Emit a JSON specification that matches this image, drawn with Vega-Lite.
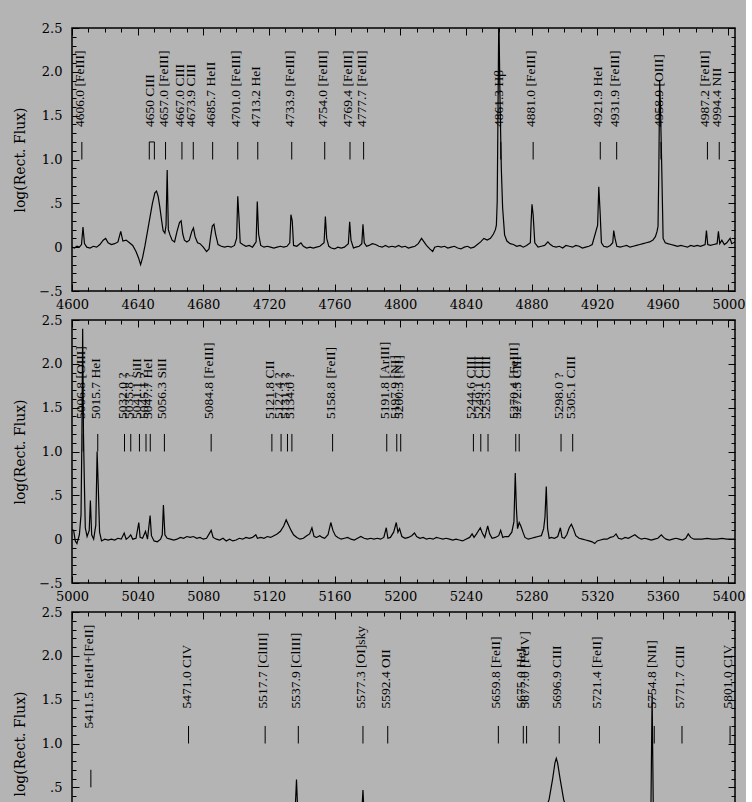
{
"$schema": "https://vega.github.io/schema/vega-lite/v6.json",
"background": "#b4b4b4",
"padding": {"left": 12, "top": 21, "right": 0, "bottom": 0},
"bounds": "flush",
"spacing": 29,
"config": {
  "view": {"stroke": "black", "strokeWidth": 1.5},
  "axis": {"domain": false, "grid": false, "labelFont": "DejaVu Serif", "labelFontSize": 13, "labelColor": "black", "tickColor": "black", "tickWidth": 1, "titleFont": "DejaVu Serif", "titleFontSize": 14, "titleFontWeight": "normal", "titleColor": "black", "labelOverlap": false, "labelFlush": false}
},
"datasets": {
"spec1": [
{"lam":4600,"flux":0.0},{"lam":4601.5,"flux":-0.01},{"lam":4603,"flux":0.01},{"lam":4604.5,"flux":0.0},{"lam":4605.8,"flux":0.03},{"lam":4606.7,"flux":0.23},{"lam":4607.6,"flux":0.04},{"lam":4609,"flux":0.0},{"lam":4611,"flux":-0.01},{"lam":4613,"flux":0.01},{"lam":4615,"flux":0.0},{"lam":4617,"flux":0.03},{"lam":4619,"flux":0.08},{"lam":4620.5,"flux":0.1},{"lam":4622,"flux":0.05},{"lam":4624,"flux":0.03},{"lam":4626,"flux":0.04},{"lam":4628,"flux":0.06},{"lam":4629.7,"flux":0.18},{"lam":4631,"flux":0.07},{"lam":4633,"flux":0.08},{"lam":4635,"flux":0.05},{"lam":4637,"flux":0.02},{"lam":4639,"flux":-0.05},{"lam":4640.5,"flux":-0.12},{"lam":4641.8,"flux":-0.2},{"lam":4643,"flux":-0.12},{"lam":4644.5,"flux":0.02},{"lam":4646,"flux":0.18},{"lam":4647.5,"flux":0.34},{"lam":4649,"flux":0.5},{"lam":4650.5,"flux":0.62},{"lam":4651.5,"flux":0.64},{"lam":4652.5,"flux":0.58},{"lam":4653.5,"flux":0.46},{"lam":4654.5,"flux":0.32},{"lam":4655.5,"flux":0.19},{"lam":4656.6,"flux":0.16},{"lam":4657.3,"flux":0.25},{"lam":4658.0,"flux":0.88},{"lam":4658.7,"flux":0.2},{"lam":4659.7,"flux":0.14},{"lam":4661,"flux":0.08},{"lam":4662.5,"flux":0.06},{"lam":4664,"flux":0.18},{"lam":4665.5,"flux":0.28},{"lam":4666.5,"flux":0.3},{"lam":4667.5,"flux":0.15},{"lam":4668.5,"flux":0.08},{"lam":4670,"flux":0.06},{"lam":4671.5,"flux":0.08},{"lam":4673,"flux":0.18},{"lam":4674,"flux":0.22},{"lam":4675,"flux":0.12},{"lam":4676.5,"flux":0.05},{"lam":4678,"flux":0.04},{"lam":4680,"flux":0.0},{"lam":4682,"flux":-0.05},{"lam":4683.5,"flux":-0.02},{"lam":4684.5,"flux":0.12},{"lam":4685.5,"flux":0.24},{"lam":4686.5,"flux":0.26},{"lam":4687.5,"flux":0.15},{"lam":4689,"flux":0.03},{"lam":4691,"flux":0.01},{"lam":4693,"flux":0.0},{"lam":4695,"flux":0.01},{"lam":4697,"flux":0.0},{"lam":4699,"flux":0.02},{"lam":4700.3,"flux":0.1},{"lam":4701.0,"flux":0.58},{"lam":4701.7,"flux":0.35},{"lam":4702.5,"flux":0.05},{"lam":4704,"flux":0.03},{"lam":4706,"flux":0.01},{"lam":4708,"flux":0.02},{"lam":4710,"flux":0.0},{"lam":4712.2,"flux":0.06},{"lam":4712.9,"flux":0.52},{"lam":4713.7,"flux":0.15},{"lam":4715,"flux":0.02},{"lam":4717,"flux":0.0},{"lam":4719,"flux":0.01},{"lam":4721,"flux":0.0},{"lam":4723,"flux":-0.01},{"lam":4725,"flux":0.0},{"lam":4727,"flux":0.01},{"lam":4729,"flux":0.0},{"lam":4731,"flux":0.01},{"lam":4732.7,"flux":0.05},{"lam":4733.4,"flux":0.37},{"lam":4734.2,"flux":0.3},{"lam":4735,"flux":0.02},{"lam":4737,"flux":0.01},{"lam":4739.5,"flux":0.05},{"lam":4741,"flux":0.01},{"lam":4743,"flux":-0.01},{"lam":4745,"flux":0.0},{"lam":4747,"flux":-0.01},{"lam":4749,"flux":0.0},{"lam":4751,"flux":0.01},{"lam":4753.6,"flux":0.05},{"lam":4754.4,"flux":0.35},{"lam":4755.2,"flux":0.1},{"lam":4756.5,"flux":0.01},{"lam":4758,"flux":-0.01},{"lam":4760,"flux":-0.02},{"lam":4762,"flux":0.0},{"lam":4764,"flux":-0.01},{"lam":4766,"flux":0.0},{"lam":4768.4,"flux":0.04},{"lam":4769.2,"flux":0.29},{"lam":4770,"flux":0.08},{"lam":4771.5,"flux":-0.01},{"lam":4773,"flux":0.0},{"lam":4775,"flux":0.01},{"lam":4776.6,"flux":0.04},{"lam":4777.3,"flux":0.26},{"lam":4778.1,"flux":0.05},{"lam":4779.5,"flux":0.01},{"lam":4781,"flux":0.02},{"lam":4783,"flux":0.04},{"lam":4785,"flux":0.03},{"lam":4787,"flux":0.01},{"lam":4789,"flux":0.0},{"lam":4791,"flux":0.02},{"lam":4793,"flux":0.0},{"lam":4795,"flux":0.01},{"lam":4797,"flux":0.0},{"lam":4799,"flux":0.02},{"lam":4801,"flux":0.0},{"lam":4803,"flux":0.01},{"lam":4805,"flux":-0.01},{"lam":4807,"flux":0.0},{"lam":4809,"flux":0.01},{"lam":4811,"flux":0.04},{"lam":4813,"flux":0.1},{"lam":4814.5,"flux":0.06},{"lam":4816,"flux":0.02},{"lam":4818,"flux":-0.02},{"lam":4819.8,"flux":-0.05},{"lam":4821,"flux":0.0},{"lam":4823,"flux":0.01},{"lam":4825,"flux":0.0},{"lam":4827,"flux":0.01},{"lam":4829,"flux":-0.01},{"lam":4831,"flux":0.0},{"lam":4833,"flux":0.01},{"lam":4835,"flux":-0.01},{"lam":4837,"flux":-0.02},{"lam":4839,"flux":0.0},{"lam":4841,"flux":0.01},{"lam":4843,"flux":-0.01},{"lam":4845,"flux":0.0},{"lam":4847,"flux":0.03},{"lam":4849,"flux":0.06},{"lam":4851,"flux":0.1},{"lam":4853,"flux":0.08},{"lam":4855,"flux":0.1},{"lam":4856.8,"flux":0.15},{"lam":4858.0,"flux":0.2},{"lam":4858.6,"flux":0.25},{"lam":4859.1,"flux":0.52},{"lam":4859.6,"flux":1.6},{"lam":4860.1,"flux":2.7},{"lam":4860.8,"flux":1.7},{"lam":4861.6,"flux":0.9},{"lam":4862.4,"flux":0.45},{"lam":4863.6,"flux":0.14},{"lam":4865,"flux":0.07},{"lam":4867,"flux":0.04},{"lam":4869,"flux":0.03},{"lam":4871,"flux":0.01},{"lam":4873,"flux":0.02},{"lam":4875,"flux":0.0},{"lam":4877,"flux":0.02},{"lam":4879.3,"flux":0.05},{"lam":4879.8,"flux":0.3},{"lam":4880.3,"flux":0.49},{"lam":4881,"flux":0.37},{"lam":4882,"flux":0.05},{"lam":4884,"flux":0.0},{"lam":4886,"flux":0.01},{"lam":4888,"flux":0.02},{"lam":4890,"flux":0.06},{"lam":4891.5,"flux":0.03},{"lam":4893,"flux":0.01},{"lam":4895,"flux":0.0},{"lam":4897,"flux":0.01},{"lam":4899,"flux":-0.01},{"lam":4901,"flux":0.02},{"lam":4903,"flux":0.01},{"lam":4905,"flux":0.0},{"lam":4907,"flux":0.02},{"lam":4909,"flux":0.01},{"lam":4911,"flux":-0.01},{"lam":4913,"flux":0.0},{"lam":4915,"flux":0.01},{"lam":4917,"flux":0.03},{"lam":4920.3,"flux":0.25},{"lam":4921.0,"flux":0.69},{"lam":4921.8,"flux":0.4},{"lam":4922.6,"flux":0.05},{"lam":4924,"flux":0.01},{"lam":4926,"flux":0.0},{"lam":4928,"flux":0.02},{"lam":4929.5,"flux":0.05},{"lam":4930.1,"flux":0.19},{"lam":4930.9,"flux":0.1},{"lam":4932,"flux":0.01},{"lam":4934,"flux":0.0},{"lam":4936,"flux":0.01},{"lam":4938,"flux":0.02},{"lam":4940,"flux":0.0},{"lam":4942,"flux":0.01},{"lam":4944,"flux":0.02},{"lam":4946,"flux":0.03},{"lam":4948,"flux":0.04},{"lam":4950,"flux":0.05},{"lam":4952,"flux":0.06},{"lam":4954,"flux":0.08},{"lam":4955.5,"flux":0.12},{"lam":4956.5,"flux":0.18},{"lam":4957.1,"flux":0.24},{"lam":4957.6,"flux":0.9},{"lam":4958.1,"flux":1.9},{"lam":4958.7,"flux":1.5},{"lam":4959.3,"flux":0.96},{"lam":4960.2,"flux":0.1},{"lam":4961.5,"flux":0.05},{"lam":4963,"flux":0.04},{"lam":4965,"flux":0.03},{"lam":4967,"flux":0.02},{"lam":4969,"flux":0.01},{"lam":4971,"flux":0.02},{"lam":4973,"flux":0.01},{"lam":4975,"flux":0.0},{"lam":4977,"flux":0.02},{"lam":4979,"flux":0.01},{"lam":4981,"flux":0.02},{"lam":4983,"flux":0.01},{"lam":4985.8,"flux":0.03},{"lam":4986.6,"flux":0.19},{"lam":4987.4,"flux":0.03},{"lam":4989,"flux":0.02},{"lam":4991,"flux":0.03},{"lam":4993.1,"flux":0.04},{"lam":4993.9,"flux":0.18},{"lam":4994.7,"flux":0.04},{"lam":4996,"flux":0.08},{"lam":4997.5,"flux":0.03},{"lam":4999,"flux":0.05},{"lam":5001,"flux":0.1},{"lam":5002,"flux":0.04},{"lam":5004,"flux":0.06}
],
"spec2": [
{"lam":5000,"flux":0.11},{"lam":5001,"flux":0.1},{"lam":5002,"flux":-0.02},{"lam":5003,"flux":-0.05},{"lam":5004.5,"flux":0.05},{"lam":5005.5,"flux":0.28},{"lam":5006.0,"flux":1.1},{"lam":5006.5,"flux":2.4},{"lam":5007.0,"flux":1.2},{"lam":5007.5,"flux":0.68},{"lam":5008.1,"flux":0.13},{"lam":5009.2,"flux":0.03},{"lam":5010.5,"flux":0.1},{"lam":5011.2,"flux":0.44},{"lam":5012,"flux":0.05},{"lam":5013.2,"flux":0.0},{"lam":5014.5,"flux":0.16},{"lam":5015.3,"flux":1.0},{"lam":5016.0,"flux":0.6},{"lam":5016.8,"flux":0.08},{"lam":5018,"flux":-0.02},{"lam":5020,"flux":0.0},{"lam":5022,"flux":-0.01},{"lam":5024,"flux":0.0},{"lam":5026,"flux":-0.01},{"lam":5028,"flux":0.01},{"lam":5030,"flux":0.0},{"lam":5031.8,"flux":0.07},{"lam":5033,"flux":0.0},{"lam":5034.5,"flux":0.02},{"lam":5035.8,"flux":0.05},{"lam":5037,"flux":0.0},{"lam":5039,"flux":0.01},{"lam":5040.7,"flux":0.19},{"lam":5041.5,"flux":0.02},{"lam":5043,"flux":0.01},{"lam":5044.8,"flux":0.09},{"lam":5046,"flux":0.0},{"lam":5047.6,"flux":0.27},{"lam":5048.4,"flux":0.04},{"lam":5050,"flux":-0.02},{"lam":5052,"flux":-0.03},{"lam":5054,"flux":0.0},{"lam":5055,"flux":0.05},{"lam":5055.7,"flux":0.39},{"lam":5056.6,"flux":0.05},{"lam":5058,"flux":0.01},{"lam":5060,"flux":0.0},{"lam":5062,"flux":-0.01},{"lam":5064,"flux":0.0},{"lam":5066,"flux":0.02},{"lam":5068,"flux":0.01},{"lam":5070,"flux":0.03},{"lam":5072,"flux":0.02},{"lam":5074,"flux":0.03},{"lam":5076,"flux":0.01},{"lam":5078,"flux":0.02},{"lam":5080,"flux":0.0},{"lam":5082,"flux":0.01},{"lam":5084.8,"flux":0.1},{"lam":5086,"flux":0.02},{"lam":5088,"flux":0.0},{"lam":5090,"flux":-0.01},{"lam":5092,"flux":0.01},{"lam":5094,"flux":-0.02},{"lam":5096,"flux":0.0},{"lam":5098,"flux":-0.02},{"lam":5100,"flux":-0.01},{"lam":5102,"flux":0.01},{"lam":5104,"flux":0.0},{"lam":5106,"flux":0.02},{"lam":5108,"flux":0.01},{"lam":5110,"flux":0.02},{"lam":5112,"flux":0.05},{"lam":5113,"flux":0.01},{"lam":5115,"flux":0.02},{"lam":5117,"flux":0.01},{"lam":5119,"flux":0.03},{"lam":5121,"flux":0.02},{"lam":5123,"flux":0.04},{"lam":5125,"flux":0.06},{"lam":5127,"flux":0.09},{"lam":5129,"flux":0.15},{"lam":5130.5,"flux":0.22},{"lam":5132,"flux":0.16},{"lam":5133.5,"flux":0.1},{"lam":5135,"flux":0.05},{"lam":5137,"flux":0.02},{"lam":5139,"flux":0.0},{"lam":5141,"flux":0.01},{"lam":5143,"flux":0.04},{"lam":5144.8,"flux":0.06},{"lam":5146.2,"flux":0.13},{"lam":5147.5,"flux":0.03},{"lam":5149,"flux":0.02},{"lam":5151,"flux":0.04},{"lam":5152.5,"flux":0.02},{"lam":5154,"flux":0.01},{"lam":5156,"flux":0.05},{"lam":5157.7,"flux":0.19},{"lam":5159,"flux":0.1},{"lam":5160.5,"flux":0.04},{"lam":5162,"flux":0.02},{"lam":5164,"flux":0.0},{"lam":5166,"flux":0.01},{"lam":5168,"flux":0.02},{"lam":5170,"flux":0.0},{"lam":5172,"flux":-0.01},{"lam":5174,"flux":0.01},{"lam":5176,"flux":0.03},{"lam":5178,"flux":0.01},{"lam":5180,"flux":0.0},{"lam":5182,"flux":0.01},{"lam":5184,"flux":0.0},{"lam":5186,"flux":0.01},{"lam":5188,"flux":0.0},{"lam":5190,"flux":0.02},{"lam":5191.5,"flux":0.13},{"lam":5192.5,"flux":0.01},{"lam":5194,"flux":0.02},{"lam":5196,"flux":0.08},{"lam":5197.6,"flux":0.19},{"lam":5198.6,"flux":0.08},{"lam":5199.6,"flux":0.12},{"lam":5201,"flux":0.03},{"lam":5203,"flux":0.01},{"lam":5205,"flux":0.02},{"lam":5207,"flux":0.04},{"lam":5208.7,"flux":0.07},{"lam":5210,"flux":0.03},{"lam":5212,"flux":0.01},{"lam":5214,"flux":0.02},{"lam":5216,"flux":0.0},{"lam":5218,"flux":0.01},{"lam":5220,"flux":0.0},{"lam":5222,"flux":0.02},{"lam":5224,"flux":0.01},{"lam":5226,"flux":0.0},{"lam":5228,"flux":0.01},{"lam":5230,"flux":0.0},{"lam":5232,"flux":-0.01},{"lam":5234,"flux":0.0},{"lam":5236,"flux":-0.01},{"lam":5238,"flux":-0.02},{"lam":5240,"flux":0.0},{"lam":5242.3,"flux":0.02},{"lam":5243.8,"flux":0.06},{"lam":5245,"flux":0.02},{"lam":5246.5,"flux":0.06},{"lam":5248.8,"flux":0.13},{"lam":5250,"flux":0.07},{"lam":5251.5,"flux":0.02},{"lam":5253.3,"flux":0.15},{"lam":5254.5,"flux":0.06},{"lam":5256,"flux":0.01},{"lam":5258,"flux":0.02},{"lam":5260,"flux":0.04},{"lam":5261.2,"flux":0.1},{"lam":5262.5,"flux":0.02},{"lam":5264,"flux":0.03},{"lam":5266,"flux":0.03},{"lam":5268,"flux":0.08},{"lam":5269.3,"flux":0.2},{"lam":5270.1,"flux":0.755},{"lam":5270.8,"flux":0.35},{"lam":5271.5,"flux":0.12},{"lam":5272.5,"flux":0.19},{"lam":5273.5,"flux":0.15},{"lam":5274.8,"flux":0.08},{"lam":5276,"flux":0.02},{"lam":5278,"flux":0.0},{"lam":5280,"flux":0.01},{"lam":5282,"flux":0.02},{"lam":5284,"flux":0.03},{"lam":5286,"flux":0.04},{"lam":5287.4,"flux":0.12},{"lam":5288.2,"flux":0.25},{"lam":5289.0,"flux":0.6},{"lam":5289.8,"flux":0.12},{"lam":5290.8,"flux":0.01},{"lam":5292,"flux":0.02},{"lam":5294,"flux":0.01},{"lam":5296,"flux":0.03},{"lam":5297.6,"flux":0.13},{"lam":5298.6,"flux":0.02},{"lam":5300,"flux":0.01},{"lam":5301.5,"flux":0.05},{"lam":5303,"flux":0.13},{"lam":5304.3,"flux":0.17},{"lam":5305.5,"flux":0.12},{"lam":5307,"flux":0.04},{"lam":5309,"flux":0.01},{"lam":5311,"flux":0.0},{"lam":5313,"flux":-0.01},{"lam":5315,"flux":-0.02},{"lam":5317,"flux":-0.03},{"lam":5318.5,"flux":-0.05},{"lam":5320,"flux":-0.02},{"lam":5322,"flux":-0.01},{"lam":5324,"flux":0.0},{"lam":5326,"flux":0.0},{"lam":5328,"flux":0.02},{"lam":5330,"flux":0.03},{"lam":5331.5,"flux":0.06},{"lam":5333,"flux":0.01},{"lam":5335,"flux":0.0},{"lam":5337,"flux":0.02},{"lam":5339,"flux":0.01},{"lam":5341,"flux":0.03},{"lam":5343,"flux":0.05},{"lam":5345,"flux":0.02},{"lam":5347,"flux":0.0},{"lam":5349,"flux":0.01},{"lam":5351,"flux":0.0},{"lam":5353,"flux":-0.01},{"lam":5355,"flux":0.0},{"lam":5357,"flux":0.01},{"lam":5359.1,"flux":0.05},{"lam":5360.5,"flux":0.02},{"lam":5362,"flux":0.0},{"lam":5364,"flux":-0.01},{"lam":5366,"flux":0.0},{"lam":5368,"flux":0.01},{"lam":5370,"flux":0.0},{"lam":5372,"flux":-0.01},{"lam":5374,"flux":0.01},{"lam":5375.5,"flux":0.06},{"lam":5377,"flux":0.02},{"lam":5379,"flux":0.0},{"lam":5381,"flux":0.0},{"lam":5384,"flux":0.0},{"lam":5387,"flux":0.01},{"lam":5390,"flux":0.0},{"lam":5393,"flux":0.0},{"lam":5396,"flux":0.01},{"lam":5399,"flux":0.0},{"lam":5402,"flux":0.0},{"lam":5404,"flux":0.0}
],
"spec3": [
{"lam":5400,"flux":0.0},{"lam":5404,"flux":0.02},{"lam":5408,"flux":0.05},{"lam":5411.5,"flux":0.15},{"lam":5415,"flux":0.05},{"lam":5419,"flux":0.01},{"lam":5423,"flux":0.0},{"lam":5427,"flux":0.02},{"lam":5431,"flux":0.01},{"lam":5435,"flux":0.0},{"lam":5439,"flux":0.01},{"lam":5443,"flux":0.02},{"lam":5447,"flux":0.0},{"lam":5451,"flux":0.01},{"lam":5455,"flux":0.0},{"lam":5459,"flux":0.02},{"lam":5463,"flux":0.03},{"lam":5467,"flux":0.06},{"lam":5471,"flux":0.12},{"lam":5475,"flux":0.05},{"lam":5479,"flux":0.02},{"lam":5483,"flux":0.01},{"lam":5487,"flux":0.0},{"lam":5491,"flux":0.01},{"lam":5495,"flux":0.0},{"lam":5499,"flux":0.02},{"lam":5503,"flux":0.01},{"lam":5507,"flux":0.0},{"lam":5511,"flux":0.01},{"lam":5515,"flux":0.03},{"lam":5517.5,"flux":0.1},{"lam":5519.5,"flux":0.02},{"lam":5523,"flux":0.01},{"lam":5527,"flux":0.0},{"lam":5531,"flux":0.01},{"lam":5534,"flux":0.03},{"lam":5535.9,"flux":0.2},{"lam":5536.8,"flux":0.59},{"lam":5537.7,"flux":0.15},{"lam":5539,"flux":0.02},{"lam":5543,"flux":0.01},{"lam":5547,"flux":0.0},{"lam":5551,"flux":0.02},{"lam":5555,"flux":0.01},{"lam":5559,"flux":0.0},{"lam":5563,"flux":0.01},{"lam":5567,"flux":0.02},{"lam":5571,"flux":0.0},{"lam":5574,"flux":0.02},{"lam":5576.4,"flux":0.15},{"lam":5577.3,"flux":0.47},{"lam":5578.2,"flux":0.1},{"lam":5580,"flux":0.02},{"lam":5584,"flux":0.01},{"lam":5588,"flux":0.02},{"lam":5592,"flux":0.08},{"lam":5595,"flux":0.02},{"lam":5599,"flux":0.01},{"lam":5603,"flux":0.0},{"lam":5607,"flux":0.02},{"lam":5611,"flux":0.01},{"lam":5615,"flux":0.0},{"lam":5619,"flux":0.01},{"lam":5623,"flux":0.02},{"lam":5627,"flux":0.0},{"lam":5631,"flux":0.01},{"lam":5635,"flux":0.0},{"lam":5639,"flux":0.02},{"lam":5643,"flux":0.01},{"lam":5647,"flux":0.0},{"lam":5651,"flux":0.01},{"lam":5655,"flux":0.02},{"lam":5659,"flux":0.06},{"lam":5663,"flux":0.02},{"lam":5667,"flux":0.01},{"lam":5671,"flux":0.03},{"lam":5675,"flux":0.05},{"lam":5678,"flux":0.06},{"lam":5681,"flux":0.08},{"lam":5684,"flux":0.1},{"lam":5687,"flux":0.18},{"lam":5689,"flux":0.28},{"lam":5690.7,"flux":0.36},{"lam":5692.9,"flux":0.6},{"lam":5694.3,"flux":0.78},{"lam":5695.1,"flux":0.83},{"lam":5695.9,"flux":0.78},{"lam":5697.4,"flux":0.6},{"lam":5699.6,"flux":0.36},{"lam":5701.5,"flux":0.24},{"lam":5704,"flux":0.14},{"lam":5707,"flux":0.07},{"lam":5710,"flux":0.04},{"lam":5714,"flux":0.02},{"lam":5718,"flux":0.01},{"lam":5721,"flux":0.04},{"lam":5724,"flux":0.01},{"lam":5728,"flux":0.0},{"lam":5732,"flux":0.01},{"lam":5736,"flux":0.02},{"lam":5740,"flux":0.0},{"lam":5744,"flux":0.01},{"lam":5748,"flux":0.02},{"lam":5751.5,"flux":0.05},{"lam":5752.8,"flux":0.3},{"lam":5753.5,"flux":1.57},{"lam":5754.2,"flux":0.25},{"lam":5756,"flux":0.04},{"lam":5760,"flux":0.01},{"lam":5764,"flux":0.0},{"lam":5768,"flux":0.01},{"lam":5772,"flux":0.03},{"lam":5776,"flux":0.01},{"lam":5780,"flux":0.0},{"lam":5784,"flux":0.01},{"lam":5788,"flux":0.02},{"lam":5792,"flux":0.0},{"lam":5796,"flux":0.01},{"lam":5800,"flux":0.03},{"lam":5804,"flux":0.01}
],
"ticks1": [{"lam":4606.0},{"lam":4647.1},{"lam":4650.2},{"lam":4657.0},{"lam":4667.0},{"lam":4673.9},{"lam":4685.7},{"lam":4701.0},{"lam":4713.2},{"lam":4733.9},{"lam":4754.0},{"lam":4769.4},{"lam":4777.7},{"lam":4861.3},{"lam":4881.0},{"lam":4921.9},{"lam":4931.9},{"lam":4958.9},{"lam":4987.2},{"lam":4994.4}],
"bracket1": [{"lam":4647.1,"lam2":4650.2}],
"labels1": [
{"lam":4606.0,"label":"4606.0 [FeIII]"},{"lam":4648.6,"label":"4650  CIII"},{"lam":4657.0,"label":"4657.0 [FeIII]"},{"lam":4667.0,"label":"4667.0 CIII"},{"lam":4673.9,"label":"4673.9 CIII"},{"lam":4685.7,"label":"4685.7 HeII"},{"lam":4701.0,"label":"4701.0 [FeIII]"},{"lam":4713.2,"label":"4713.2 HeI"},{"lam":4733.9,"label":"4733.9 [FeIII]"},{"lam":4754.0,"label":"4754.0 [FeIII]"},{"lam":4769.4,"label":"4769.4 [FeIII]"},{"lam":4777.7,"label":"4777.7 [FeIII]"},{"lam":4861.3,"label":"4861.3 Hβ"},{"lam":4881.0,"label":"4881.0 [FeIII]"},{"lam":4921.9,"label":"4921.9 HeI"},{"lam":4931.9,"label":"4931.9 [FeIII]"},{"lam":4958.9,"label":"4958.9 [OIII]"},{"lam":4987.2,"label":"4987.2 [FeIII]"},{"lam":4994.4,"label":"4994.4 NII"}
],
"ticks2": [{"lam":5006.8},{"lam":5015.7},{"lam":5032.0},{"lam":5035.8},{"lam":5041.1},{"lam":5045.1},{"lam":5047.7},{"lam":5056.3},{"lam":5084.8},{"lam":5121.8},{"lam":5127.4},{"lam":5131.3},{"lam":5134.0},{"lam":5158.8},{"lam":5191.8},{"lam":5197.9},{"lam":5200.3},{"lam":5244.6},{"lam":5249.1},{"lam":5253.5},{"lam":5270.4},{"lam":5272.5},{"lam":5298.0},{"lam":5305.1}],
"labels2": [
{"lam":5006.8,"label":"5006.8 [OIII]"},{"lam":5015.7,"label":"5015.7 HeI"},{"lam":5032.0,"label":"5032.0 ?"},{"lam":5035.8,"label":"5035.8 ?"},{"lam":5041.1,"label":"5041.1 SiII"},{"lam":5045.1,"label":"5045.1 ?"},{"lam":5047.7,"label":"5047.7 HeI"},{"lam":5056.3,"label":"5056.3 SiII"},{"lam":5084.8,"label":"5084.8 [FeIII]"},{"lam":5121.8,"label":"5121.8 CII"},{"lam":5127.4,"label":"5127.4 ?"},{"lam":5131.3,"label":"5131.3 ?"},{"lam":5134.0,"label":"5134.0 ?"},{"lam":5158.8,"label":"5158.8 [FeII]"},{"lam":5191.8,"label":"5191.8 [ArIII]"},{"lam":5197.9,"label":"5197.9 [NI]"},{"lam":5200.3,"label":"5200.3 [NI]"},{"lam":5244.6,"label":"5244.6 CIII"},{"lam":5249.1,"label":"5249.1 CIII"},{"lam":5253.5,"label":"5253.5 CIII"},{"lam":5270.4,"label":"5270.4 [FeIII]"},{"lam":5272.5,"label":"5272.5 CIII"},{"lam":5298.0,"label":"5298.0 ?"},{"lam":5305.1,"label":"5305.1 CIII"}
],
"ticks3": [{"lam":5471.0},{"lam":5517.7},{"lam":5537.9},{"lam":5577.3},{"lam":5592.4},{"lam":5659.8},{"lam":5675.0},{"lam":5677.0},{"lam":5696.9},{"lam":5721.4},{"lam":5754.8},{"lam":5771.7},{"lam":5801.0}],
"ticks3low": [{"lam":5411.5}],
"labels3": [
{"lam":5471.0,"label":"5471.0 CIV"},{"lam":5517.7,"label":"5517.7 [ClIII]"},{"lam":5537.9,"label":"5537.9 [ClIII]"},{"lam":5577.3,"label":"5577.3 [OI]sky"},{"lam":5592.4,"label":"5592.4 OII"},{"lam":5659.8,"label":"5659.8 [FeII]"},{"lam":5675.0,"label":"5675.0 HeI"},{"lam":5677.0,"label":"5677.0 [FeIV]"},{"lam":5696.9,"label":"5696.9 CIII"},{"lam":5721.4,"label":"5721.4 [FeII]"},{"lam":5754.8,"label":"5754.8 [NII]"},{"lam":5771.7,"label":"5771.7 CIII"},{"lam":5801.0,"label":"5801.0 CIV"}
],
"labels3low": [{"lam":5411.5,"label":"5411.5 HeII+[FeII]"}]
},
"vconcat": [
{
 "width": 663, "height": 263,
 "layer": [
  {"data": {"name": "spec1"}, "mark": {"type": "line", "color": "black", "strokeWidth": 1.2, "clip": true},
   "encoding": {
    "x": {"field": "lam", "type": "quantitative", "scale": {"domain": [4600, 5004], "nice": false, "zero": false},
      "axis": {"orient": "bottom", "title": null, "format": "d", "values": [4600,4610,4620,4630,4640,4650,4660,4670,4680,4690,4700,4710,4720,4730,4740,4750,4760,4770,4780,4790,4800,4810,4820,4830,4840,4850,4860,4870,4880,4890,4900,4910,4920,4930,4940,4950,4960,4970,4980,4990,5000], "labelExpr": "datum.value % 40 === 0 ? datum.label : ''", "tickSize": {"condition": {"test": "datum.value % 40 === 0", "value": -7}, "value": -4}, "labelPadding": 14}},
    "y": {"field": "flux", "type": "quantitative", "scale": {"domain": [-0.5, 2.5], "nice": false, "zero": false},
      "axis": {"orient": "left", "title": "log(Rect. Flux)", "titlePadding": 11, "values": [-0.5,-0.4,-0.3,-0.2,-0.1,0,0.1,0.2,0.3,0.4,0.5,0.6,0.7,0.8,0.9,1,1.1,1.2,1.3,1.4,1.5,1.6,1.7,1.8,1.9,2,2.1,2.2,2.3,2.4,2.5], "labelExpr": "abs(datum.value*2 - round(datum.value*2)) < 0.001 ? (abs(datum.value) < 0.001 ? '0' : (abs(datum.value) < 0.9 ? replace(format(datum.value, '.1f'), '0.', '.') : format(datum.value, '.1f'))) : ''", "tickSize": {"condition": {"test": "abs(datum.value*2 - round(datum.value*2)) < 0.001", "value": -7}, "value": -4}, "labelPadding": 17}}
   }},
  {"data": {"name": "ticks1"}, "mark": {"type": "rule", "color": "black", "strokeWidth": 1},
   "encoding": {
    "x": {"field": "lam", "type": "quantitative", "axis": {"orient": "top", "title": null, "labels": false, "values": [4600,4610,4620,4630,4640,4650,4660,4670,4680,4690,4700,4710,4720,4730,4740,4750,4760,4770,4780,4790,4800,4810,4820,4830,4840,4850,4860,4870,4880,4890,4900,4910,4920,4930,4940,4950,4960,4970,4980,4990,5000], "tickSize": {"condition": {"test": "datum.value % 40 === 0", "value": -7}, "value": -4}}},
    "y": {"datum": 1.0, "type": "quantitative", "axis": {"orient": "right", "title": null, "labels": false, "values": [-0.5,-0.4,-0.3,-0.2,-0.1,0,0.1,0.2,0.3,0.4,0.5,0.6,0.7,0.8,0.9,1,1.1,1.2,1.3,1.4,1.5,1.6,1.7,1.8,1.9,2,2.1,2.2,2.3,2.4,2.5], "tickSize": {"condition": {"test": "abs(datum.value*2 - round(datum.value*2)) < 0.001", "value": -7}, "value": -4}}},
    "y2": {"datum": 1.2}
   }},
  {"data": {"name": "bracket1"}, "mark": {"type": "rule", "color": "black", "strokeWidth": 1},
   "encoding": {"x": {"field": "lam", "type": "quantitative", "axis": null}, "x2": {"field": "lam2"}, "y": {"datum": 1.2, "type": "quantitative", "axis": null}}},
  {"data": {"name": "labels1"}, "mark": {"type": "text", "angle": 270, "align": "left", "baseline": "middle", "dy": -2, "font": "Liberation Serif", "fontSize": 13.5, "color": "black"},
   "encoding": {"x": {"field": "lam", "type": "quantitative", "axis": null}, "y": {"datum": 1.37, "type": "quantitative", "axis": null}, "text": {"field": "label"}}}
 ]
},
{
 "width": 663, "height": 263,
 "layer": [
  {"data": {"name": "spec2"}, "mark": {"type": "line", "color": "black", "strokeWidth": 1.2, "clip": true},
   "encoding": {
    "x": {"field": "lam", "type": "quantitative", "scale": {"domain": [5000, 5404], "nice": false, "zero": false},
      "axis": {"orient": "bottom", "title": null, "format": "d", "values": [5000,5010,5020,5030,5040,5050,5060,5070,5080,5090,5100,5110,5120,5130,5140,5150,5160,5170,5180,5190,5200,5210,5220,5230,5240,5250,5260,5270,5280,5290,5300,5310,5320,5330,5340,5350,5360,5370,5380,5390,5400], "labelExpr": "datum.value % 40 === 0 ? datum.label : ''", "tickSize": {"condition": {"test": "datum.value % 40 === 0", "value": -7}, "value": -4}, "labelPadding": 14}},
    "y": {"field": "flux", "type": "quantitative", "scale": {"domain": [-0.5, 2.5], "nice": false, "zero": false},
      "axis": {"orient": "left", "title": "log(Rect. Flux)", "titlePadding": 11, "values": [-0.5,-0.4,-0.3,-0.2,-0.1,0,0.1,0.2,0.3,0.4,0.5,0.6,0.7,0.8,0.9,1,1.1,1.2,1.3,1.4,1.5,1.6,1.7,1.8,1.9,2,2.1,2.2,2.3,2.4,2.5], "labelExpr": "abs(datum.value*2 - round(datum.value*2)) < 0.001 ? (abs(datum.value) < 0.001 ? '0' : (abs(datum.value) < 0.9 ? replace(format(datum.value, '.1f'), '0.', '.') : format(datum.value, '.1f'))) : ''", "tickSize": {"condition": {"test": "abs(datum.value*2 - round(datum.value*2)) < 0.001", "value": -7}, "value": -4}, "labelPadding": 17}}
   }},
  {"data": {"name": "ticks2"}, "mark": {"type": "rule", "color": "black", "strokeWidth": 1},
   "encoding": {
    "x": {"field": "lam", "type": "quantitative", "axis": {"orient": "top", "title": null, "labels": false, "values": [5000,5010,5020,5030,5040,5050,5060,5070,5080,5090,5100,5110,5120,5130,5140,5150,5160,5170,5180,5190,5200,5210,5220,5230,5240,5250,5260,5270,5280,5290,5300,5310,5320,5330,5340,5350,5360,5370,5380,5390,5400], "tickSize": {"condition": {"test": "datum.value % 40 === 0", "value": -7}, "value": -4}}},
    "y": {"datum": 1.0, "type": "quantitative", "axis": {"orient": "right", "title": null, "labels": false, "values": [-0.5,-0.4,-0.3,-0.2,-0.1,0,0.1,0.2,0.3,0.4,0.5,0.6,0.7,0.8,0.9,1,1.1,1.2,1.3,1.4,1.5,1.6,1.7,1.8,1.9,2,2.1,2.2,2.3,2.4,2.5], "tickSize": {"condition": {"test": "abs(datum.value*2 - round(datum.value*2)) < 0.001", "value": -7}, "value": -4}}},
    "y2": {"datum": 1.2}
   }},
  {"data": {"name": "labels2"}, "mark": {"type": "text", "angle": 270, "align": "left", "baseline": "middle", "dy": -2, "font": "Liberation Serif", "fontSize": 13.5, "color": "black"},
   "encoding": {"x": {"field": "lam", "type": "quantitative", "axis": null}, "y": {"datum": 1.37, "type": "quantitative", "axis": null}, "text": {"field": "label"}}}
 ]
},
{
 "width": 663, "height": 263,
 "layer": [
  {"data": {"name": "spec3"}, "mark": {"type": "line", "color": "black", "strokeWidth": 1.2, "clip": true},
   "encoding": {
    "x": {"field": "lam", "type": "quantitative", "scale": {"domain": [5400, 5804], "nice": false, "zero": false},
      "axis": {"orient": "bottom", "title": null, "format": "d", "values": [5400,5410,5420,5430,5440,5450,5460,5470,5480,5490,5500,5510,5520,5530,5540,5550,5560,5570,5580,5590,5600,5610,5620,5630,5640,5650,5660,5670,5680,5690,5700,5710,5720,5730,5740,5750,5760,5770,5780,5790,5800], "labelExpr": "datum.value % 40 === 0 ? datum.label : ''", "tickSize": {"condition": {"test": "datum.value % 40 === 0", "value": -7}, "value": -4}, "labelPadding": 14}},
    "y": {"field": "flux", "type": "quantitative", "scale": {"domain": [-0.5, 2.5], "nice": false, "zero": false},
      "axis": {"orient": "left", "title": "log(Rect. Flux)", "titlePadding": 11, "values": [-0.5,-0.4,-0.3,-0.2,-0.1,0,0.1,0.2,0.3,0.4,0.5,0.6,0.7,0.8,0.9,1,1.1,1.2,1.3,1.4,1.5,1.6,1.7,1.8,1.9,2,2.1,2.2,2.3,2.4,2.5], "labelExpr": "abs(datum.value*2 - round(datum.value*2)) < 0.001 ? (abs(datum.value) < 0.001 ? '0' : (abs(datum.value) < 0.9 ? replace(format(datum.value, '.1f'), '0.', '.') : format(datum.value, '.1f'))) : ''", "tickSize": {"condition": {"test": "abs(datum.value*2 - round(datum.value*2)) < 0.001", "value": -7}, "value": -4}, "labelPadding": 17}}
   }},
  {"data": {"name": "ticks3"}, "mark": {"type": "rule", "color": "black", "strokeWidth": 1},
   "encoding": {
    "x": {"field": "lam", "type": "quantitative", "axis": {"orient": "top", "title": null, "labels": false, "values": [5400,5410,5420,5430,5440,5450,5460,5470,5480,5490,5500,5510,5520,5530,5540,5550,5560,5570,5580,5590,5600,5610,5620,5630,5640,5650,5660,5670,5680,5690,5700,5710,5720,5730,5740,5750,5760,5770,5780,5790,5800], "tickSize": {"condition": {"test": "datum.value % 40 === 0", "value": -7}, "value": -4}}},
    "y": {"datum": 1.0, "type": "quantitative", "axis": {"orient": "right", "title": null, "labels": false, "values": [-0.5,-0.4,-0.3,-0.2,-0.1,0,0.1,0.2,0.3,0.4,0.5,0.6,0.7,0.8,0.9,1,1.1,1.2,1.3,1.4,1.5,1.6,1.7,1.8,1.9,2,2.1,2.2,2.3,2.4,2.5], "tickSize": {"condition": {"test": "abs(datum.value*2 - round(datum.value*2)) < 0.001", "value": -7}, "value": -4}}},
    "y2": {"datum": 1.2}
   }},
  {"data": {"name": "ticks3low"}, "mark": {"type": "rule", "color": "black", "strokeWidth": 1},
   "encoding": {"x": {"field": "lam", "type": "quantitative", "axis": null}, "y": {"datum": 0.5, "type": "quantitative", "axis": null}, "y2": {"datum": 0.7}}},
  {"data": {"name": "labels3"}, "mark": {"type": "text", "angle": 270, "align": "left", "baseline": "middle", "dy": -2, "font": "Liberation Serif", "fontSize": 13.5, "color": "black"},
   "encoding": {"x": {"field": "lam", "type": "quantitative", "axis": null}, "y": {"datum": 1.4, "type": "quantitative", "axis": null}, "text": {"field": "label"}}},
  {"data": {"name": "labels3low"}, "mark": {"type": "text", "angle": 270, "align": "left", "baseline": "middle", "dy": -2, "font": "Liberation Serif", "fontSize": 13.5, "color": "black"},
   "encoding": {"x": {"field": "lam", "type": "quantitative", "axis": null}, "y": {"datum": 1.17, "type": "quantitative", "axis": null}, "text": {"field": "label"}}}
 ]
}
]
}
